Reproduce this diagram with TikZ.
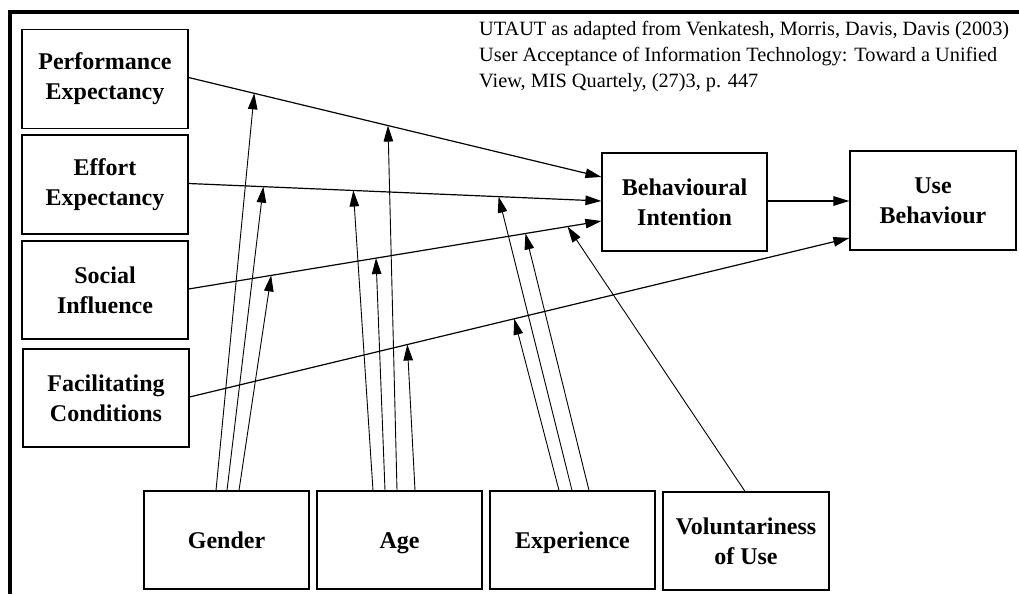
\documentclass[tikz,border=0pt]{standalone}
\usepackage{fontspec}
\setmainfont{Liberation Serif}
\usetikzlibrary{arrows.meta,calc}
\begin{document}
\begin{tikzpicture}[x=1pt,y=-1pt,
  construct/.style={draw, line width=1.2pt, inner sep=0pt, align=center,
    font=\fontsize{24}{30}\selectfont\bfseries,
    minimum width=165pt, minimum height=98pt},
  oneline/.style={text height=16pt, text depth=0pt},
  link/.style={line width=1.2pt, -{Triangle[length=16pt,width=9.5pt]}},
  moderate/.style={line width=0.9pt, -{Triangle[length=16pt,width=9.5pt]}},
  cite/.style={anchor=base west, inner sep=0pt, font=\fontsize{20.3}{25}\selectfont},
  frame/.style={line width=4.5pt}]

\useasboundingbox (0,0) rectangle (1019,594);

% outer frame (top and left edges only)
\draw[frame] (10,594) -- (10,12) -- (1019,12);

% source note
\node[cite] (t1) at (479,36)   {UTAUT as adapted from Venkatesh, Morris, Davis, Davis (2003)};
\node[cite] (t2) at (479,61.5) {User Acceptance of Information Technology: Toward a Unified};
\node[cite] (t3) at (479,87)   {View, MIS Quartely, (27)3, p. 447};

% determinants
\node[construct, minimum width=166pt, minimum height=99pt] (pe) at (105,79)  {Performance\\Expectancy};
\node[construct, minimum width=166pt, minimum height=99pt] (ee) at (105,184.5) {Effort\\Expectancy};
\node[construct, minimum width=166pt] (si) at (105,290) {Social\\Influence};
\node[construct, minimum width=166pt] (fc) at (106,398) {Facilitating\\Conditions};

% outcomes
\node[construct] (bi) at (684.5,202) {Behavioural\\Intention};
\node[construct, minimum width=166pt, minimum height=99pt] (ub) at (933,200.5) {Use\\Behaviour};

% moderators
\node[construct, oneline] (gen) at (226.5,540) {Gender};
\node[construct, oneline] (age) at (399.5,540) {Age};
\node[construct, oneline] (exp) at (572.5,540) {Experience};
\node[construct, minimum width=166pt] (vol) at (746,541) {Voluntariness\\of Use};

% entry points of the main paths
\coordinate (bi-pe) at ([yshift=25pt]bi.west);
\coordinate (bi-si) at ([yshift=-19pt]bi.west);
\coordinate (ub-fc) at ([yshift=-37.5pt]ub.west);

% main paths
\draw[link] ([yshift=1.5pt]pe.east) -- (bi-pe);
\draw[link] ([yshift=1pt]ee.east) -- ([yshift=1pt]bi.west);
\draw[link] ([yshift=1pt]si.east) -- (bi-si);
\draw[link] ([yshift=1pt]fc.east) -- (ub-fc);
\draw[link] ([yshift=1pt]bi.east) -- ([yshift=1pt]bi.east -| ub.west);

% points where the moderators meet the main paths
\coordinate (pe-g) at ($([yshift=1.5pt]pe.east)!0.159!(bi-pe)$);
\coordinate (pe-a) at ($([yshift=1.5pt]pe.east)!0.483!(bi-pe)$);
\coordinate (ee-g) at ($([yshift=1pt]ee.east)!0.181!([yshift=1pt]bi.west)$);
\coordinate (ee-a) at ($([yshift=1pt]ee.east)!0.399!([yshift=1pt]bi.west)$);
\coordinate (ee-e) at ($([yshift=1pt]ee.east)!0.751!([yshift=1pt]bi.west)$);
\coordinate (si-g) at ($([yshift=1pt]si.east)!0.200!(bi-si)$);
\coordinate (si-a) at ($([yshift=1pt]si.east)!0.454!(bi-si)$);
\coordinate (si-e) at ($([yshift=1pt]si.east)!0.816!(bi-si)$);
\coordinate (si-v) at ($([yshift=1pt]si.east)!0.918!(bi-si)$);
\coordinate (fc-a) at ($([yshift=1pt]fc.east)!0.330!(ub-fc)$);
\coordinate (fc-e) at ($([yshift=1pt]fc.east)!0.492!(ub-fc)$);

% gender
\draw[moderate] ([xshift=-10.5pt]gen.north) -- (pe-g);
\draw[moderate] ([xshift=0.5pt]gen.north)   -- (ee-g);
\draw[moderate] ([xshift=12.5pt]gen.north)  -- (si-g);
% age
\draw[moderate] ([xshift=-26.5pt]age.north) -- (ee-a);
\draw[moderate] ([xshift=-14.5pt]age.north) -- (si-a);
\draw[moderate] ([xshift=-2.5pt]age.north)  -- (pe-a);
\draw[moderate] ([xshift=15.5pt]age.north)  -- (fc-a);
% experience
\draw[moderate] ([xshift=-13.5pt]exp.north) -- (fc-e);
\draw[moderate] ([xshift=-0.5pt]exp.north)  -- (ee-e);
\draw[moderate] ([xshift=16.5pt]exp.north)  -- (si-e);
% voluntariness
\draw[moderate] ([xshift=-1pt]vol.north) -- (si-v);

\end{tikzpicture}
\end{document}
